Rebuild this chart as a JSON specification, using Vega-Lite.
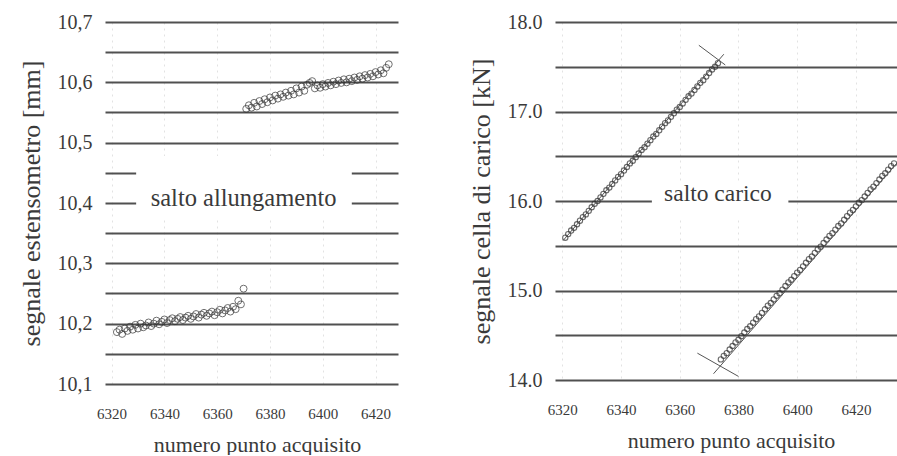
{
  "$schema": "https://vega.github.io/schema/vega-lite/v6.json",
  "background": "white",
  "padding": {"left": 18, "top": 12, "right": 0, "bottom": 0},
  "config": {
    "view": {"stroke": null},
    "axis": {
      "labelColor": "#3a3a3a",
      "titleColor": "#3a3a3a",
      "titleFontWeight": "normal",
      "domain": false,
      "ticks": false
    }
  },
  "datasets": {
    "allung": [
      {"x": 6322, "y": 10.186}, {"x": 6323, "y": 10.190}, {"x": 6324, "y": 10.183}, {"x": 6325, "y": 10.192},
      {"x": 6326, "y": 10.188}, {"x": 6327, "y": 10.195}, {"x": 6328, "y": 10.190}, {"x": 6329, "y": 10.198},
      {"x": 6330, "y": 10.192}, {"x": 6331, "y": 10.200}, {"x": 6332, "y": 10.194}, {"x": 6333, "y": 10.197},
      {"x": 6334, "y": 10.202}, {"x": 6335, "y": 10.196}, {"x": 6336, "y": 10.200}, {"x": 6337, "y": 10.205},
      {"x": 6338, "y": 10.199}, {"x": 6339, "y": 10.203}, {"x": 6340, "y": 10.207}, {"x": 6341, "y": 10.201},
      {"x": 6342, "y": 10.206}, {"x": 6343, "y": 10.209}, {"x": 6344, "y": 10.204}, {"x": 6345, "y": 10.208},
      {"x": 6346, "y": 10.211}, {"x": 6347, "y": 10.206}, {"x": 6348, "y": 10.210}, {"x": 6349, "y": 10.213},
      {"x": 6350, "y": 10.208}, {"x": 6351, "y": 10.212}, {"x": 6352, "y": 10.216}, {"x": 6353, "y": 10.210},
      {"x": 6354, "y": 10.215}, {"x": 6355, "y": 10.218}, {"x": 6356, "y": 10.213}, {"x": 6357, "y": 10.217},
      {"x": 6358, "y": 10.220}, {"x": 6359, "y": 10.214}, {"x": 6360, "y": 10.219}, {"x": 6361, "y": 10.223},
      {"x": 6362, "y": 10.217}, {"x": 6363, "y": 10.222}, {"x": 6364, "y": 10.226}, {"x": 6365, "y": 10.220},
      {"x": 6366, "y": 10.228}, {"x": 6367, "y": 10.224}, {"x": 6368, "y": 10.238}, {"x": 6369, "y": 10.232},
      {"x": 6370, "y": 10.258},
      {"x": 6371, "y": 10.556}, {"x": 6372, "y": 10.562}, {"x": 6373, "y": 10.558}, {"x": 6374, "y": 10.566},
      {"x": 6375, "y": 10.560}, {"x": 6376, "y": 10.569}, {"x": 6377, "y": 10.564}, {"x": 6378, "y": 10.572},
      {"x": 6379, "y": 10.567}, {"x": 6380, "y": 10.575}, {"x": 6381, "y": 10.570}, {"x": 6382, "y": 10.578},
      {"x": 6383, "y": 10.573}, {"x": 6384, "y": 10.580}, {"x": 6385, "y": 10.576}, {"x": 6386, "y": 10.583},
      {"x": 6387, "y": 10.578}, {"x": 6388, "y": 10.586}, {"x": 6389, "y": 10.580}, {"x": 6390, "y": 10.590},
      {"x": 6391, "y": 10.583}, {"x": 6392, "y": 10.593}, {"x": 6393, "y": 10.586}, {"x": 6394, "y": 10.596},
      {"x": 6395, "y": 10.599}, {"x": 6396, "y": 10.602}, {"x": 6397, "y": 10.590}, {"x": 6398, "y": 10.595},
      {"x": 6399, "y": 10.591}, {"x": 6400, "y": 10.597}, {"x": 6401, "y": 10.593}, {"x": 6402, "y": 10.599},
      {"x": 6403, "y": 10.595}, {"x": 6404, "y": 10.601}, {"x": 6405, "y": 10.597}, {"x": 6406, "y": 10.603},
      {"x": 6407, "y": 10.599}, {"x": 6408, "y": 10.605}, {"x": 6409, "y": 10.600}, {"x": 6410, "y": 10.606},
      {"x": 6411, "y": 10.602}, {"x": 6412, "y": 10.608}, {"x": 6413, "y": 10.604}, {"x": 6414, "y": 10.610},
      {"x": 6415, "y": 10.606}, {"x": 6416, "y": 10.612}, {"x": 6417, "y": 10.608}, {"x": 6418, "y": 10.614},
      {"x": 6419, "y": 10.610}, {"x": 6420, "y": 10.617}, {"x": 6421, "y": 10.613}, {"x": 6422, "y": 10.620},
      {"x": 6423, "y": 10.615}, {"x": 6424, "y": 10.624}, {"x": 6425, "y": 10.630}
    ],
    "carico": [
      {"x": 6321, "y": 15.59}, {"x": 6322, "y": 15.63}, {"x": 6323, "y": 15.67}, {"x": 6324, "y": 15.70},
      {"x": 6325, "y": 15.74}, {"x": 6326, "y": 15.78}, {"x": 6327, "y": 15.82}, {"x": 6328, "y": 15.85},
      {"x": 6329, "y": 15.89}, {"x": 6330, "y": 15.93}, {"x": 6331, "y": 15.97}, {"x": 6332, "y": 16.00},
      {"x": 6333, "y": 16.04}, {"x": 6334, "y": 16.08}, {"x": 6335, "y": 16.12}, {"x": 6336, "y": 16.15},
      {"x": 6337, "y": 16.19}, {"x": 6338, "y": 16.23}, {"x": 6339, "y": 16.27}, {"x": 6340, "y": 16.30},
      {"x": 6341, "y": 16.34}, {"x": 6342, "y": 16.38}, {"x": 6343, "y": 16.42}, {"x": 6344, "y": 16.45},
      {"x": 6345, "y": 16.49}, {"x": 6346, "y": 16.53}, {"x": 6347, "y": 16.57}, {"x": 6348, "y": 16.60},
      {"x": 6349, "y": 16.64}, {"x": 6350, "y": 16.68}, {"x": 6351, "y": 16.72}, {"x": 6352, "y": 16.75},
      {"x": 6353, "y": 16.79}, {"x": 6354, "y": 16.83}, {"x": 6355, "y": 16.87}, {"x": 6356, "y": 16.90},
      {"x": 6357, "y": 16.94}, {"x": 6358, "y": 16.98}, {"x": 6359, "y": 17.02}, {"x": 6360, "y": 17.05},
      {"x": 6361, "y": 17.09}, {"x": 6362, "y": 17.13}, {"x": 6363, "y": 17.17}, {"x": 6364, "y": 17.20},
      {"x": 6365, "y": 17.24}, {"x": 6366, "y": 17.28}, {"x": 6367, "y": 17.32}, {"x": 6368, "y": 17.35},
      {"x": 6369, "y": 17.39}, {"x": 6370, "y": 17.43}, {"x": 6371, "y": 17.47}, {"x": 6372, "y": 17.50},
      {"x": 6373, "y": 17.54},
      {"x": 6374, "y": 14.23}, {"x": 6375, "y": 14.27}, {"x": 6376, "y": 14.30}, {"x": 6377, "y": 14.34},
      {"x": 6378, "y": 14.38}, {"x": 6379, "y": 14.42}, {"x": 6380, "y": 14.45}, {"x": 6381, "y": 14.49},
      {"x": 6382, "y": 14.53}, {"x": 6383, "y": 14.57}, {"x": 6384, "y": 14.60}, {"x": 6385, "y": 14.64},
      {"x": 6386, "y": 14.68}, {"x": 6387, "y": 14.71}, {"x": 6388, "y": 14.75}, {"x": 6389, "y": 14.79},
      {"x": 6390, "y": 14.83}, {"x": 6391, "y": 14.86}, {"x": 6392, "y": 14.90}, {"x": 6393, "y": 14.94},
      {"x": 6394, "y": 14.97}, {"x": 6395, "y": 15.01}, {"x": 6396, "y": 15.05}, {"x": 6397, "y": 15.09},
      {"x": 6398, "y": 15.12}, {"x": 6399, "y": 15.16}, {"x": 6400, "y": 15.20}, {"x": 6401, "y": 15.23},
      {"x": 6402, "y": 15.27}, {"x": 6403, "y": 15.31}, {"x": 6404, "y": 15.35}, {"x": 6405, "y": 15.38},
      {"x": 6406, "y": 15.42}, {"x": 6407, "y": 15.46}, {"x": 6408, "y": 15.49}, {"x": 6409, "y": 15.53},
      {"x": 6410, "y": 15.57}, {"x": 6411, "y": 15.61}, {"x": 6412, "y": 15.64}, {"x": 6413, "y": 15.68},
      {"x": 6414, "y": 15.72}, {"x": 6415, "y": 15.75}, {"x": 6416, "y": 15.79}, {"x": 6417, "y": 15.83},
      {"x": 6418, "y": 15.87}, {"x": 6419, "y": 15.90}, {"x": 6420, "y": 15.94}, {"x": 6421, "y": 15.98},
      {"x": 6422, "y": 16.01}, {"x": 6423, "y": 16.05}, {"x": 6424, "y": 16.09}, {"x": 6425, "y": 16.13},
      {"x": 6426, "y": 16.16}, {"x": 6427, "y": 16.20}, {"x": 6428, "y": 16.24}, {"x": 6429, "y": 16.28},
      {"x": 6430, "y": 16.31}, {"x": 6431, "y": 16.35}, {"x": 6432, "y": 16.39}, {"x": 6433, "y": 16.42}
    ],
    "segmenti": [
      {"seg": "fit1", "x": 6320.3, "y": 15.56}, {"seg": "fit1", "x": 6375.0, "y": 17.64},
      {"seg": "cross1", "x": 6366.5, "y": 17.74}, {"seg": "cross1", "x": 6375.5, "y": 17.52},
      {"seg": "fit2", "x": 6371.5, "y": 14.07}, {"seg": "fit2", "x": 6436.0, "y": 16.50},
      {"seg": "cross2", "x": 6366.0, "y": 14.30}, {"seg": "cross2", "x": 6380.0, "y": 14.04}
    ]
  },
  "hconcat": [
    {
      "width": 293,
      "height": 362,
      "layer": [
        {
          "data": {"name": "allung"},
          "mark": {"type": "point", "shape": "circle", "filled": false, "size": 48, "stroke": "#333333", "strokeWidth": 1},
          "encoding": {
            "x": {
              "field": "x", "type": "quantitative",
              "scale": {"domain": [6317.5, 6428.5], "nice": false, "zero": false},
              "axis": {
                "title": "numero punto acquisito",
                "values": [6320, 6340, 6360, 6380, 6400, 6420],
                "tickCount": 20,
                "format": "d",
                "labelFont": "Liberation Serif",
                "labelFontSize": 15,
                "labelPadding": 22,
                "labelFlush": false,
                "titleFont": "Liberation Serif",
                "titleFontSize": 22,
                "titlePadding": 13,
                "titleX": 152,
                "grid": true,
                "gridColor": "#e2e2e2",
                "gridDash": [2, 4],
                "gridWidth": 1
              }
            },
            "y": {
              "field": "y", "type": "quantitative",
              "scale": {"domain": [10.1, 10.7], "nice": false, "zero": false},
              "axis": {
                "title": "segnale estensometro [mm]",
                "values": [10.1, 10.15, 10.2, 10.25, 10.3, 10.35, 10.4, 10.45, 10.5, 10.55, 10.6, 10.65, 10.7],
                "tickCount": 30,
                "labelExpr": "(round(datum.value*100) % 10 == 0) ? replace(format(datum.value, '.1f'), '.', ',') : ''",
                "labelFont": "Liberation Serif",
                "labelFontSize": 20,
                "labelPadding": 13,
                "titleFont": "Liberation Serif",
                "titleFontSize": 26,
                "titlePadding": 13,
                "grid": true,
                "gridColor": "#505050",
                "gridWidth": 2
              }
            }
          }
        },
        {
          "data": {"values": [{}]},
          "mark": {"type": "rect", "fill": "white", "strokeWidth": 0},
          "encoding": {
            "x": {"datum": 6329.3},
            "x2": {"datum": 6411},
            "y": {"datum": 10.372},
            "y2": {"datum": 10.478}
          }
        },
        {
          "data": {"values": [{"t": "salto allungamento"}]},
          "mark": {"type": "text", "font": "Liberation Serif", "fontSize": 24.5, "color": "#3a3a3a", "baseline": "middle", "align": "center"},
          "encoding": {
            "text": {"field": "t"},
            "x": {"datum": 6370},
            "y": {"datum": 10.407}
          }
        }
      ]
    },
    {
      "width": 342,
      "height": 358,
      "layer": [
        {
          "data": {"name": "carico"},
          "mark": {"type": "point", "shape": "circle", "filled": false, "size": 28, "stroke": "#2e2e2e", "strokeWidth": 1.1},
          "encoding": {
            "x": {
              "field": "x", "type": "quantitative",
              "scale": {"domain": [6317.5, 6434], "nice": false, "zero": false},
              "axis": {
                "title": "numero punto acquisito",
                "values": [6320, 6340, 6360, 6380, 6400, 6420],
                "tickCount": 20,
                "format": "d",
                "labelFont": "Liberation Serif",
                "labelFontSize": 15,
                "labelPadding": 22,
                "labelFlush": false,
                "titleFont": "Liberation Serif",
                "titleFontSize": 22,
                "titlePadding": 13,
                "titleX": 176,
                "grid": true,
                "gridColor": "#e2e2e2",
                "gridDash": [2, 4],
                "gridWidth": 1
              }
            },
            "y": {
              "field": "y", "type": "quantitative",
              "scale": {"domain": [14, 18], "nice": false, "zero": false},
              "axis": {
                "title": "segnale cella di carico [kN]",
                "values": [14, 14.5, 15, 15.5, 16, 16.5, 17, 17.5, 18],
                "tickCount": 30,
                "labelExpr": "(round(datum.value*10) % 10 == 0) ? format(datum.value, '.1f') : ''",
                "labelFont": "Liberation Serif",
                "labelFontSize": 20,
                "labelPadding": 13,
                "titleFont": "Liberation Serif",
                "titleFontSize": 26,
                "titlePadding": 13,
                "grid": true,
                "gridColor": "#505050",
                "gridWidth": 2
              }
            }
          }
        },
        {
          "data": {"name": "segmenti"},
          "mark": {"type": "line", "stroke": "#555555", "strokeWidth": 1},
          "encoding": {
            "x": {"field": "x", "type": "quantitative"},
            "y": {"field": "y", "type": "quantitative"},
            "detail": {"field": "seg"}
          }
        },
        {
          "data": {"values": [{}]},
          "mark": {"type": "rect", "fill": "white", "strokeWidth": 0},
          "encoding": {
            "x": {"datum": 6350.5},
            "x2": {"datum": 6397},
            "y": {"datum": 15.8},
            "y2": {"datum": 16.2}
          }
        },
        {
          "data": {"values": [{"t": "salto carico"}]},
          "mark": {"type": "text", "font": "Liberation Serif", "fontSize": 23.5, "color": "#3a3a3a", "baseline": "middle", "align": "center"},
          "encoding": {
            "text": {"field": "t"},
            "x": {"datum": 6373},
            "y": {"datum": 16.08}
          }
        }
      ]
    }
  ],
  "spacing": 157,
  "bounds": "flush"
}
